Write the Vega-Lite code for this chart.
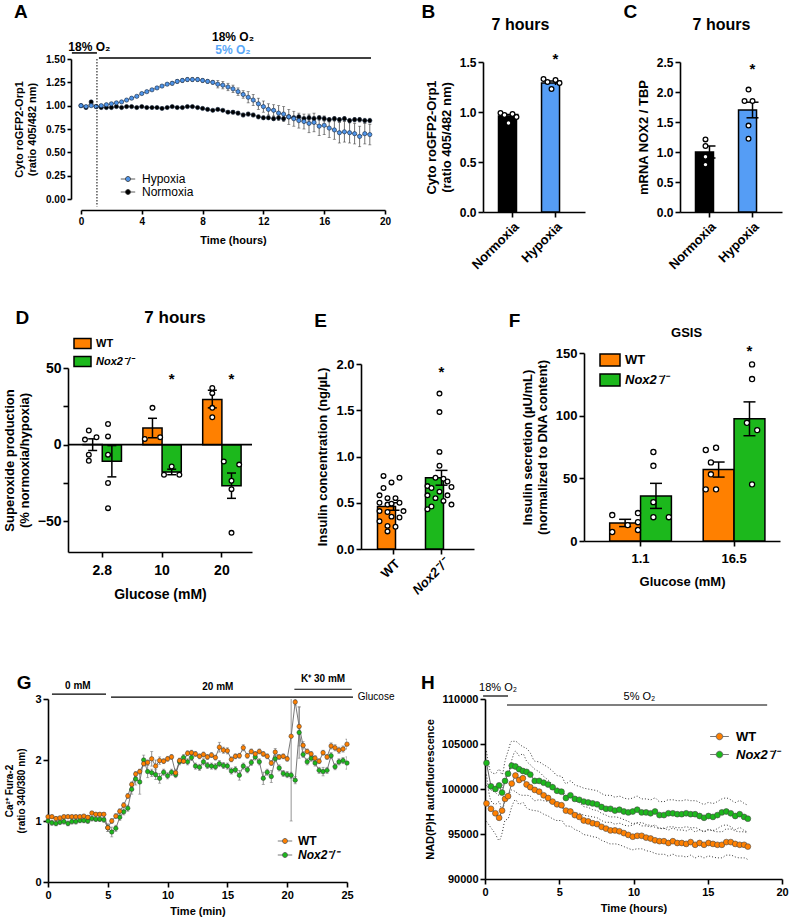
{
"$schema":"https://vega.github.io/schema/vega-lite/v6.json",
"autosize":{"type":"none"},
"padding":{"left":48,"top":59,"right":742,"bottom":862},
"background":"white",
"bounds":"flush",
"spacing":0,
"resolve":{"scale":{"fill":"independent"},"legend":{"fill":"independent"}},
"config":{
 "font":"Liberation Sans",
 "view":{"stroke":null},
 "axis":{"domainColor":"black","domainWidth":1.6,"tickColor":"black","tickWidth":1.6,"tickSize":5,"labelColor":"black","labelFontWeight":"bold","labelFontSize":11,"titleFontWeight":"bold","titleFontSize":11,"titleColor":"black","grid":false,"labelPadding":2,"titlePadding":6,"labelFlush":false,"labelOverlap":false},
 "legend":{"labelColor":"black","labelFont":"Liberation Sans","padding":0},
 "text":{"fontWeight":"bold","color":"black","font":"Liberation Sans"}
},
"datasets":{
"A":[
{"t":0,"s":"Normoxia","v":1.00,"e":0.01},{"t":0.33,"s":"Normoxia","v":0.98,"e":0.01},{"t":0.67,"s":"Normoxia","v":1.04,"e":0.01},{"t":1,"s":"Normoxia","v":0.99,"e":0.01},{"t":1.33,"s":"Normoxia","v":0.98,"e":0.01},{"t":1.67,"s":"Normoxia","v":0.98,"e":0.01},{"t":2,"s":"Normoxia","v":0.98,"e":0.01},{"t":2.33,"s":"Normoxia","v":0.99,"e":0.01},{"t":2.67,"s":"Normoxia","v":0.98,"e":0.01},{"t":3,"s":"Normoxia","v":0.99,"e":0.01},
{"t":3.33,"s":"Normoxia","v":0.99,"e":0.01},{"t":3.67,"s":"Normoxia","v":0.98,"e":0.01},{"t":4,"s":"Normoxia","v":0.99,"e":0.01},{"t":4.33,"s":"Normoxia","v":0.98,"e":0.01},{"t":4.67,"s":"Normoxia","v":0.98,"e":0.01},{"t":5,"s":"Normoxia","v":0.98,"e":0.01},{"t":5.33,"s":"Normoxia","v":0.97,"e":0.01},{"t":5.67,"s":"Normoxia","v":0.98,"e":0.01},{"t":6,"s":"Normoxia","v":0.99,"e":0.01},{"t":6.33,"s":"Normoxia","v":0.98,"e":0.01},
{"t":6.67,"s":"Normoxia","v":0.98,"e":0.01},{"t":7,"s":"Normoxia","v":0.99,"e":0.01},{"t":7.33,"s":"Normoxia","v":0.99,"e":0.01},{"t":7.67,"s":"Normoxia","v":0.98,"e":0.01},{"t":8,"s":"Normoxia","v":0.97,"e":0.01},{"t":8.33,"s":"Normoxia","v":0.96,"e":0.01},{"t":8.67,"s":"Normoxia","v":0.95,"e":0.01},{"t":9,"s":"Normoxia","v":0.96,"e":0.01},{"t":9.33,"s":"Normoxia","v":0.95,"e":0.01},{"t":9.67,"s":"Normoxia","v":0.93,"e":0.01},
{"t":10,"s":"Normoxia","v":0.93,"e":0.02},{"t":10.33,"s":"Normoxia","v":0.92,"e":0.02},{"t":10.67,"s":"Normoxia","v":0.90,"e":0.02},{"t":11,"s":"Normoxia","v":0.91,"e":0.02},{"t":11.33,"s":"Normoxia","v":0.90,"e":0.02},{"t":11.67,"s":"Normoxia","v":0.88,"e":0.02},{"t":12,"s":"Normoxia","v":0.87,"e":0.02},{"t":12.33,"s":"Normoxia","v":0.87,"e":0.02},{"t":12.67,"s":"Normoxia","v":0.86,"e":0.02},{"t":13,"s":"Normoxia","v":0.87,"e":0.02},
{"t":13.33,"s":"Normoxia","v":0.86,"e":0.02},{"t":13.67,"s":"Normoxia","v":0.88,"e":0.02},{"t":14,"s":"Normoxia","v":0.87,"e":0.02},{"t":14.33,"s":"Normoxia","v":0.88,"e":0.02},{"t":14.67,"s":"Normoxia","v":0.86,"e":0.02},{"t":15,"s":"Normoxia","v":0.87,"e":0.025},{"t":15.33,"s":"Normoxia","v":0.86,"e":0.025},{"t":15.67,"s":"Normoxia","v":0.87,"e":0.025},{"t":16,"s":"Normoxia","v":0.86,"e":0.025},{"t":16.33,"s":"Normoxia","v":0.85,"e":0.025},
{"t":16.67,"s":"Normoxia","v":0.86,"e":0.025},{"t":17,"s":"Normoxia","v":0.85,"e":0.025},{"t":17.33,"s":"Normoxia","v":0.86,"e":0.025},{"t":17.67,"s":"Normoxia","v":0.84,"e":0.025},{"t":18,"s":"Normoxia","v":0.85,"e":0.025},{"t":18.33,"s":"Normoxia","v":0.85,"e":0.025},{"t":18.67,"s":"Normoxia","v":0.84,"e":0.025},{"t":19,"s":"Normoxia","v":0.84,"e":0.025},
{"t":0,"s":"Hypoxia","v":1.00,"e":0.01},{"t":0.33,"s":"Hypoxia","v":0.99,"e":0.01},{"t":0.67,"s":"Hypoxia","v":1.00,"e":0.01},{"t":1,"s":"Hypoxia","v":0.99,"e":0.01},{"t":1.33,"s":"Hypoxia","v":1.00,"e":0.01},{"t":1.67,"s":"Hypoxia","v":1.01,"e":0.01},{"t":2,"s":"Hypoxia","v":1.02,"e":0.01},{"t":2.33,"s":"Hypoxia","v":1.03,"e":0.01},{"t":2.67,"s":"Hypoxia","v":1.04,"e":0.01},{"t":3,"s":"Hypoxia","v":1.06,"e":0.01},
{"t":3.33,"s":"Hypoxia","v":1.08,"e":0.01},{"t":3.67,"s":"Hypoxia","v":1.10,"e":0.01},{"t":4,"s":"Hypoxia","v":1.13,"e":0.01},{"t":4.33,"s":"Hypoxia","v":1.15,"e":0.01},{"t":4.67,"s":"Hypoxia","v":1.17,"e":0.01},{"t":5,"s":"Hypoxia","v":1.19,"e":0.01},{"t":5.33,"s":"Hypoxia","v":1.21,"e":0.01},{"t":5.67,"s":"Hypoxia","v":1.23,"e":0.01},{"t":6,"s":"Hypoxia","v":1.24,"e":0.02},{"t":6.33,"s":"Hypoxia","v":1.26,"e":0.02},
{"t":6.67,"s":"Hypoxia","v":1.27,"e":0.02},{"t":7,"s":"Hypoxia","v":1.28,"e":0.02},{"t":7.33,"s":"Hypoxia","v":1.28,"e":0.02},{"t":7.67,"s":"Hypoxia","v":1.28,"e":0.02},{"t":8,"s":"Hypoxia","v":1.27,"e":0.02},{"t":8.33,"s":"Hypoxia","v":1.26,"e":0.02},{"t":8.67,"s":"Hypoxia","v":1.25,"e":0.02},{"t":9,"s":"Hypoxia","v":1.23,"e":0.04},{"t":9.33,"s":"Hypoxia","v":1.22,"e":0.04},{"t":9.67,"s":"Hypoxia","v":1.20,"e":0.04},
{"t":10,"s":"Hypoxia","v":1.18,"e":0.04},{"t":10.33,"s":"Hypoxia","v":1.15,"e":0.04},{"t":10.67,"s":"Hypoxia","v":1.12,"e":0.04},{"t":11,"s":"Hypoxia","v":1.09,"e":0.06},{"t":11.33,"s":"Hypoxia","v":1.06,"e":0.06},{"t":11.67,"s":"Hypoxia","v":1.02,"e":0.06},{"t":12,"s":"Hypoxia","v":0.99,"e":0.06},{"t":12.33,"s":"Hypoxia","v":0.96,"e":0.06},{"t":12.67,"s":"Hypoxia","v":0.95,"e":0.06},{"t":13,"s":"Hypoxia","v":0.92,"e":0.08},
{"t":13.33,"s":"Hypoxia","v":0.91,"e":0.08},{"t":13.67,"s":"Hypoxia","v":0.88,"e":0.08},{"t":14,"s":"Hypoxia","v":0.86,"e":0.08},{"t":14.33,"s":"Hypoxia","v":0.84,"e":0.08},{"t":14.67,"s":"Hypoxia","v":0.83,"e":0.08},{"t":15,"s":"Hypoxia","v":0.81,"e":0.1},{"t":15.33,"s":"Hypoxia","v":0.82,"e":0.1},{"t":15.67,"s":"Hypoxia","v":0.78,"e":0.1},{"t":16,"s":"Hypoxia","v":0.79,"e":0.1},{"t":16.33,"s":"Hypoxia","v":0.76,"e":0.1},
{"t":16.67,"s":"Hypoxia","v":0.74,"e":0.1},{"t":17,"s":"Hypoxia","v":0.71,"e":0.11},{"t":17.33,"s":"Hypoxia","v":0.72,"e":0.11},{"t":17.67,"s":"Hypoxia","v":0.71,"e":0.11},{"t":18,"s":"Hypoxia","v":0.70,"e":0.11},{"t":18.33,"s":"Hypoxia","v":0.67,"e":0.11},{"t":18.67,"s":"Hypoxia","v":0.70,"e":0.11},{"t":19,"s":"Hypoxia","v":0.69,"e":0.11}
],
"Bbar":[{"g":"Normoxia","m":0.96,"lo":0.945,"hi":0.975},{"g":"Hypoxia","m":1.29,"lo":1.27,"hi":1.31}],
"Bpts":[{"g":"Normoxia","k":1,"v":0.99},{"g":"Normoxia","k":2,"v":0.97},{"g":"Normoxia","k":3,"v":0.89},{"g":"Normoxia","k":4,"v":0.98},{"g":"Normoxia","k":5,"v":0.95},{"g":"Hypoxia","k":1,"v":1.33},{"g":"Hypoxia","k":2,"v":1.30},{"g":"Hypoxia","k":3,"v":1.23},{"g":"Hypoxia","k":4,"v":1.32},{"g":"Hypoxia","k":5,"v":1.29}],
"Cbar":[{"g":"Normoxia","m":1.0,"lo":0.9,"hi":1.1},{"g":"Hypoxia","m":1.7,"lo":1.57,"hi":1.83}],
"Cpts":[{"g":"Normoxia","k":3,"v":1.21},{"g":"Normoxia","k":3,"v":1.10},{"g":"Normoxia","k":3,"v":0.92},{"g":"Normoxia","k":3,"v":0.79},{"g":"Hypoxia","k":3,"v":2.04},{"g":"Hypoxia","k":2,"v":1.85},{"g":"Hypoxia","k":4,"v":1.85},{"g":"Hypoxia","k":3,"v":1.44},{"g":"Hypoxia","k":3,"v":1.22}],
"Dbar":[{"g":"2.8","geno":"WT","m":0.1,"lo":-3.8,"hi":3.8},{"g":"2.8","geno":"Nox2⁻/⁻","m":-10.8,"lo":-21,"hi":-0.6},{"g":"10","geno":"WT","m":10.8,"lo":4.5,"hi":17.2},{"g":"10","geno":"Nox2⁻/⁻","m":-17.8,"lo":-19.6,"hi":-16},{"g":"20","geno":"WT","m":29.5,"lo":24,"hi":35.5},{"g":"20","geno":"Nox2⁻/⁻","m":-26.8,"lo":-35,"hi":-18.5}],
"Dpts":[{"g":"2.8","sub":"WT-2","v":9.2},{"g":"2.8","sub":"WT-1","v":3.3},{"g":"2.8","sub":"WT-4","v":4.8},{"g":"2.8","sub":"WT-2","v":-6.5},{"g":"2.8","sub":"WT-2","v":-10.5},
{"g":"2.8","sub":"N-2","v":13.5},{"g":"2.8","sub":"N-2","v":5.4},{"g":"2.8","sub":"N-2","v":-6.5},{"g":"2.8","sub":"N-2","v":-25},{"g":"2.8","sub":"N-2","v":-41.4},
{"g":"10","sub":"WT-1","v":3.7},{"g":"10","sub":"WT-3","v":24},{"g":"10","sub":"WT-5","v":4.8},
{"g":"10","sub":"N-1","v":-19.6},{"g":"10","sub":"N-3","v":-14.2},{"g":"10","sub":"N-5","v":-19.6},
{"g":"20","sub":"WT-3","v":37},{"g":"20","sub":"WT-3","v":33.6},{"g":"20","sub":"WT-3","v":24},{"g":"20","sub":"WT-3","v":17.9},
{"g":"20","sub":"N-1","v":-11},{"g":"20","sub":"N-5","v":-13},{"g":"20","sub":"N-3","v":-23.5},{"g":"20","sub":"N-3","v":-29},{"g":"20","sub":"N-3","v":-57.5}],
"Ebar":[{"g":"WT","m":0.46,"lo":0.42,"hi":0.50},{"g":"Nox2⁻/⁻","m":0.77,"lo":0.69,"hi":0.85}],
"Epts":[{"g":"WT","k":2,"v":0.79},{"g":"WT","k":6,"v":0.77},{"g":"WT","k":4,"v":0.72},{"g":"WT","k":2,"v":0.66},{"g":"WT","k":1,"v":0.58},{"g":"WT","k":3,"v":0.55},{"g":"WT","k":5,"v":0.55},{"g":"WT","k":1,"v":0.50},{"g":"WT","k":3,"v":0.48},{"g":"WT","k":4,"v":0.49},{"g":"WT","k":6,"v":0.50},{"g":"WT","k":7,"v":0.41},{"g":"WT","k":1,"v":0.41},{"g":"WT","k":3,"v":0.40},{"g":"WT","k":4,"v":0.35},{"g":"WT","k":6,"v":0.34},{"g":"WT","k":1,"v":0.30},{"g":"WT","k":3,"v":0.25},{"g":"WT","k":5,"v":0.24},{"g":"WT","k":3,"v":0.19},
{"g":"Nox2⁻/⁻","k":4,"v":1.68},{"g":"Nox2⁻/⁻","k":4,"v":1.48},{"g":"Nox2⁻/⁻","k":4,"v":1.05},{"g":"Nox2⁻/⁻","k":4,"v":0.90},{"g":"Nox2⁻/⁻","k":3,"v":0.77},{"g":"Nox2⁻/⁻","k":5,"v":0.76},{"g":"Nox2⁻/⁻","k":6,"v":0.73},{"g":"Nox2⁻/⁻","k":1,"v":0.68},{"g":"Nox2⁻/⁻","k":2,"v":0.66},{"g":"Nox2⁻/⁻","k":7,"v":0.67},{"g":"Nox2⁻/⁻","k":4,"v":0.62},{"g":"Nox2⁻/⁻","k":1,"v":0.58},{"g":"Nox2⁻/⁻","k":6,"v":0.58},{"g":"Nox2⁻/⁻","k":3,"v":0.55},{"g":"Nox2⁻/⁻","k":5,"v":0.52},{"g":"Nox2⁻/⁻","k":7,"v":0.48},{"g":"Nox2⁻/⁻","k":2,"v":0.46},{"g":"Nox2⁻/⁻","k":1,"v":0.43}],
"Fbar":[{"g":"1.1","geno":"WT","m":14.4,"lo":11.5,"hi":17.3},{"g":"1.1","geno":"Nox2⁻/⁻","m":36,"lo":26,"hi":46},{"g":"16.5","geno":"WT","m":57,"lo":51,"hi":63},{"g":"16.5","geno":"Nox2⁻/⁻","m":97.5,"lo":84,"hi":111}],
"Fpts":[{"g":"1.1","sub":"WT-1","v":20.7},{"g":"1.1","sub":"WT-4","v":12.7},{"g":"1.1","sub":"WT-1","v":7.2},{"g":"1.1","sub":"WT-6","v":22.3},{"g":"1.1","sub":"WT-6","v":15},{"g":"1.1","sub":"WT-6","v":8.8},
{"g":"1.1","sub":"N-3","v":71},{"g":"1.1","sub":"N-3","v":60},{"g":"1.1","sub":"N-3","v":31},{"g":"1.1","sub":"N-3","v":19},{"g":"1.1","sub":"N-6","v":19},
{"g":"16.5","sub":"WT-1","v":72.6},{"g":"16.5","sub":"WT-3","v":74.4},{"g":"16.5","sub":"WT-2","v":62.7},{"g":"16.5","sub":"WT-2","v":53.2},{"g":"16.5","sub":"WT-1","v":41.2},{"g":"16.5","sub":"WT-3","v":41.2},
{"g":"16.5","sub":"N-4","v":140.9},{"g":"16.5","sub":"N-4","v":129.2},{"g":"16.5","sub":"N-3","v":94.3},{"g":"16.5","sub":"N-5","v":88.5},{"g":"16.5","sub":"N-4","v":45.2}],
"G":[
{"t":0,"g":"Nox2⁻/⁻","v":1.00,"e":0.04},{"t":0.33,"g":"Nox2⁻/⁻","v":0.97,"e":0.04},{"t":0.67,"g":"Nox2⁻/⁻","v":0.96,"e":0.04},{"t":1,"g":"Nox2⁻/⁻","v":0.98,"e":0.04},{"t":1.33,"g":"Nox2⁻/⁻","v":0.99,"e":0.04},{"t":1.67,"g":"Nox2⁻/⁻","v":0.96,"e":0.04},{"t":2,"g":"Nox2⁻/⁻","v":0.99,"e":0.04},{"t":2.33,"g":"Nox2⁻/⁻","v":0.99,"e":0.04},{"t":2.67,"g":"Nox2⁻/⁻","v":1.01,"e":0.04},{"t":3,"g":"Nox2⁻/⁻","v":1.01,"e":0.04},
{"t":3.33,"g":"Nox2⁻/⁻","v":1.00,"e":0.04},{"t":3.67,"g":"Nox2⁻/⁻","v":1.04,"e":0.04},{"t":4,"g":"Nox2⁻/⁻","v":1.03,"e":0.04},{"t":4.33,"g":"Nox2⁻/⁻","v":1.03,"e":0.04},{"t":4.67,"g":"Nox2⁻/⁻","v":1.02,"e":0.04},{"t":5,"g":"Nox2⁻/⁻","v":0.89,"e":0.06},{"t":5.33,"g":"Nox2⁻/⁻","v":0.82,"e":0.08},{"t":5.67,"g":"Nox2⁻/⁻","v":0.88,"e":0.05},{"t":6,"g":"Nox2⁻/⁻","v":1.06,"e":0.05},{"t":6.33,"g":"Nox2⁻/⁻","v":1.15,"e":0.05},
{"t":6.67,"g":"Nox2⁻/⁻","v":1.21,"e":0.05},{"t":7,"g":"Nox2⁻/⁻","v":1.52,"e":0.08},{"t":7.33,"g":"Nox2⁻/⁻","v":1.69,"e":0.1},{"t":7.67,"g":"Nox2⁻/⁻","v":1.64,"e":0.2},{"t":8,"g":"Nox2⁻/⁻","v":2.00,"e":0.08},{"t":8.33,"g":"Nox2⁻/⁻","v":1.81,"e":0.1},{"t":8.67,"g":"Nox2⁻/⁻","v":1.79,"e":0.06},{"t":9,"g":"Nox2⁻/⁻","v":1.76,"e":0.08},{"t":9.33,"g":"Nox2⁻/⁻","v":1.70,"e":0.08},{"t":9.67,"g":"Nox2⁻/⁻","v":1.80,"e":0.05},
{"t":10,"g":"Nox2⁻/⁻","v":1.74,"e":0.05},{"t":10.33,"g":"Nox2⁻/⁻","v":1.80,"e":0.05},{"t":10.67,"g":"Nox2⁻/⁻","v":1.76,"e":0.05},{"t":11,"g":"Nox2⁻/⁻","v":1.97,"e":0.05},{"t":11.33,"g":"Nox2⁻/⁻","v":2.04,"e":0.05},{"t":11.67,"g":"Nox2⁻/⁻","v":1.97,"e":0.05},{"t":12,"g":"Nox2⁻/⁻","v":2.04,"e":0.05},{"t":12.33,"g":"Nox2⁻/⁻","v":1.90,"e":0.05},{"t":12.67,"g":"Nox2⁻/⁻","v":1.88,"e":0.05},{"t":13,"g":"Nox2⁻/⁻","v":1.97,"e":0.05},
{"t":13.33,"g":"Nox2⁻/⁻","v":1.91,"e":0.05},{"t":13.67,"g":"Nox2⁻/⁻","v":1.90,"e":0.05},{"t":14,"g":"Nox2⁻/⁻","v":1.89,"e":0.05},{"t":14.33,"g":"Nox2⁻/⁻","v":1.94,"e":0.05},{"t":14.67,"g":"Nox2⁻/⁻","v":1.91,"e":0.05},{"t":15,"g":"Nox2⁻/⁻","v":1.90,"e":0.05},{"t":15.33,"g":"Nox2⁻/⁻","v":1.82,"e":0.05},{"t":15.67,"g":"Nox2⁻/⁻","v":1.84,"e":0.05},{"t":16,"g":"Nox2⁻/⁻","v":1.75,"e":0.08},{"t":16.33,"g":"Nox2⁻/⁻","v":1.90,"e":0.05},
{"t":16.67,"g":"Nox2⁻/⁻","v":1.84,"e":0.05},{"t":17,"g":"Nox2⁻/⁻","v":1.96,"e":0.05},{"t":17.33,"g":"Nox2⁻/⁻","v":2.05,"e":0.05},{"t":17.67,"g":"Nox2⁻/⁻","v":1.97,"e":0.05},{"t":18,"g":"Nox2⁻/⁻","v":1.70,"e":0.1},{"t":18.33,"g":"Nox2⁻/⁻","v":1.80,"e":0.05},{"t":18.67,"g":"Nox2⁻/⁻","v":1.73,"e":0.1},{"t":19,"g":"Nox2⁻/⁻","v":2.02,"e":0.05},{"t":19.33,"g":"Nox2⁻/⁻","v":1.87,"e":0.05},{"t":19.67,"g":"Nox2⁻/⁻","v":1.78,"e":0.05},
{"t":20,"g":"Nox2⁻/⁻","v":1.76,"e":0.05},{"t":20.33,"g":"Nox2⁻/⁻","v":1.75,"e":0.05},{"t":20.67,"g":"Nox2⁻/⁻","v":1.67,"e":0.06},{"t":21,"g":"Nox2⁻/⁻","v":2.45,"e":0.42},{"t":21.33,"g":"Nox2⁻/⁻","v":2.09,"e":0.05},{"t":21.67,"g":"Nox2⁻/⁻","v":1.97,"e":0.05},{"t":22,"g":"Nox2⁻/⁻","v":2.03,"e":0.05},{"t":22.33,"g":"Nox2⁻/⁻","v":1.95,"e":0.05},{"t":22.67,"g":"Nox2⁻/⁻","v":1.83,"e":0.05},{"t":23,"g":"Nox2⁻/⁻","v":1.81,"e":0.07},
{"t":23.33,"g":"Nox2⁻/⁻","v":1.83,"e":0.05},{"t":23.67,"g":"Nox2⁻/⁻","v":2.07,"e":0.05},{"t":24,"g":"Nox2⁻/⁻","v":1.89,"e":0.05},{"t":24.33,"g":"Nox2⁻/⁻","v":1.97,"e":0.05},{"t":24.67,"g":"Nox2⁻/⁻","v":1.99,"e":0.05},{"t":25,"g":"Nox2⁻/⁻","v":1.95,"e":0.1},
{"t":0,"g":"WT","v":1.07,"e":0.03},{"t":0.33,"g":"WT","v":1.07,"e":0.03},{"t":0.67,"g":"WT","v":1.04,"e":0.03},{"t":1,"g":"WT","v":1.05,"e":0.03},{"t":1.33,"g":"WT","v":1.07,"e":0.03},{"t":1.67,"g":"WT","v":1.07,"e":0.03},{"t":2,"g":"WT","v":1.07,"e":0.03},{"t":2.33,"g":"WT","v":1.07,"e":0.03},{"t":2.67,"g":"WT","v":1.07,"e":0.03},{"t":3,"g":"WT","v":1.08,"e":0.03},
{"t":3.33,"g":"WT","v":1.06,"e":0.03},{"t":3.67,"g":"WT","v":1.13,"e":0.03},{"t":4,"g":"WT","v":1.11,"e":0.03},{"t":4.33,"g":"WT","v":1.11,"e":0.03},{"t":4.67,"g":"WT","v":1.11,"e":0.03},{"t":5,"g":"WT","v":0.89,"e":0.06},{"t":5.33,"g":"WT","v":1.00,"e":0.04},{"t":5.67,"g":"WT","v":1.08,"e":0.04},{"t":6,"g":"WT","v":1.16,"e":0.04},{"t":6.33,"g":"WT","v":1.26,"e":0.04},
{"t":6.67,"g":"WT","v":1.41,"e":0.04},{"t":7,"g":"WT","v":1.60,"e":0.04},{"t":7.33,"g":"WT","v":1.77,"e":0.04},{"t":7.67,"g":"WT","v":1.81,"e":0.04},{"t":8,"g":"WT","v":1.94,"e":0.04},{"t":8.33,"g":"WT","v":1.96,"e":0.04},{"t":8.67,"g":"WT","v":2.02,"e":0.12},{"t":9,"g":"WT","v":1.90,"e":0.1},{"t":9.33,"g":"WT","v":1.99,"e":0.06},{"t":9.67,"g":"WT","v":1.98,"e":0.04},
{"t":10,"g":"WT","v":2.02,"e":0.04},{"t":10.33,"g":"WT","v":2.05,"e":0.04},{"t":10.67,"g":"WT","v":1.79,"e":0.06},{"t":11,"g":"WT","v":1.99,"e":0.04},{"t":11.33,"g":"WT","v":1.98,"e":0.04},{"t":11.67,"g":"WT","v":2.11,"e":0.04},{"t":12,"g":"WT","v":2.12,"e":0.04},{"t":12.33,"g":"WT","v":2.10,"e":0.04},{"t":12.67,"g":"WT","v":2.06,"e":0.04},{"t":13,"g":"WT","v":2.09,"e":0.04},
{"t":13.33,"g":"WT","v":2.05,"e":0.04},{"t":13.67,"g":"WT","v":2.08,"e":0.04},{"t":14,"g":"WT","v":2.04,"e":0.04},{"t":14.33,"g":"WT","v":2.21,"e":0.08},{"t":14.67,"g":"WT","v":2.16,"e":0.05},{"t":15,"g":"WT","v":2.15,"e":0.05},{"t":15.33,"g":"WT","v":2.01,"e":0.04},{"t":15.67,"g":"WT","v":2.06,"e":0.04},{"t":16,"g":"WT","v":2.07,"e":0.04},{"t":16.33,"g":"WT","v":2.20,"e":0.05},
{"t":16.67,"g":"WT","v":2.07,"e":0.04},{"t":17,"g":"WT","v":2.14,"e":0.04},{"t":17.33,"g":"WT","v":2.10,"e":0.04},{"t":17.67,"g":"WT","v":2.14,"e":0.04},{"t":18,"g":"WT","v":2.10,"e":0.04},{"t":18.33,"g":"WT","v":2.06,"e":0.04},{"t":18.67,"g":"WT","v":1.95,"e":0.04},{"t":19,"g":"WT","v":2.13,"e":0.06},{"t":19.33,"g":"WT","v":2.05,"e":0.04},{"t":19.67,"g":"WT","v":2.06,"e":0.04},
{"t":20,"g":"WT","v":2.02,"e":0.04},{"t":20.33,"g":"WT","v":2.39,"e":1.39},{"t":20.67,"g":"WT","v":2.95,"e":0.05},{"t":21,"g":"WT","v":2.55,"e":0.32},{"t":21.33,"g":"WT","v":2.24,"e":0.06},{"t":21.67,"g":"WT","v":2.14,"e":0.04},{"t":22,"g":"WT","v":2.10,"e":0.04},{"t":22.33,"g":"WT","v":2.03,"e":0.04},{"t":22.67,"g":"WT","v":1.98,"e":0.04},{"t":23,"g":"WT","v":2.12,"e":0.04},
{"t":23.33,"g":"WT","v":2.05,"e":0.04},{"t":23.67,"g":"WT","v":2.23,"e":0.05},{"t":24,"g":"WT","v":2.20,"e":0.05},{"t":24.33,"g":"WT","v":2.16,"e":0.05},{"t":24.67,"g":"WT","v":2.18,"e":0.05},{"t":25,"g":"WT","v":2.26,"e":0.08}
],
"H":[
{"t":0.1,"g":"WT","v":98400,"e":2000},{"t":0.4,"g":"WT","v":97800,"e":2100},{"t":0.7,"g":"WT","v":97300,"e":2300},{"t":0.95,"g":"WT","v":96800,"e":2500},{"t":1.15,"g":"WT","v":97600,"e":2500},{"t":1.35,"g":"WT","v":98900,"e":2400},{"t":1.55,"g":"WT","v":99200,"e":2500},{"t":1.8,"g":"WT","v":100600,"e":2600},{"t":2.05,"g":"WT","v":101500,"e":2700},{"t":2.3,"g":"WT","v":101000,"e":2700},
{"t":2.55,"g":"WT","v":101200,"e":2700},{"t":2.8,"g":"WT","v":100500,"e":2600},{"t":3.05,"g":"WT","v":100200,"e":2500},{"t":3.35,"g":"WT","v":99900,"e":2300},{"t":3.65,"g":"WT","v":99700,"e":2200},{"t":3.95,"g":"WT","v":99300,"e":2100},{"t":4.25,"g":"WT","v":99000,"e":2000},{"t":4.55,"g":"WT","v":98600,"e":1900},{"t":4.85,"g":"WT","v":98300,"e":1800},{"t":5.15,"g":"WT","v":98200,"e":1700},
{"t":5.45,"g":"WT","v":97600,"e":1700},{"t":5.75,"g":"WT","v":97500,"e":1650},{"t":6.05,"g":"WT","v":97100,"e":1600},{"t":6.35,"g":"WT","v":96900,"e":1600},{"t":6.65,"g":"WT","v":96500,"e":1550},{"t":6.95,"g":"WT","v":96400,"e":1550},{"t":7.25,"g":"WT","v":96200,"e":1500},{"t":7.55,"g":"WT","v":96100,"e":1500},{"t":7.85,"g":"WT","v":95800,"e":1500},{"t":8.15,"g":"WT","v":95600,"e":1500},
{"t":8.45,"g":"WT","v":95400,"e":1500},{"t":8.75,"g":"WT","v":95400,"e":1500},{"t":9.05,"g":"WT","v":95300,"e":1500},{"t":9.35,"g":"WT","v":95100,"e":1500},{"t":9.65,"g":"WT","v":94900,"e":1500},{"t":9.95,"g":"WT","v":94700,"e":1450},{"t":10.25,"g":"WT","v":94800,"e":1450},{"t":10.55,"g":"WT","v":94800,"e":1450},{"t":10.85,"g":"WT","v":94600,"e":1450},{"t":11.15,"g":"WT","v":94500,"e":1450},
{"t":11.45,"g":"WT","v":94300,"e":1450},{"t":11.75,"g":"WT","v":94200,"e":1450},{"t":12.05,"g":"WT","v":94200,"e":1450},{"t":12.35,"g":"WT","v":94000,"e":1450},{"t":12.65,"g":"WT","v":94200,"e":1450},{"t":12.95,"g":"WT","v":94000,"e":1450},{"t":13.25,"g":"WT","v":94000,"e":1450},{"t":13.55,"g":"WT","v":93900,"e":1450},{"t":13.85,"g":"WT","v":94100,"e":1450},{"t":14.15,"g":"WT","v":93800,"e":1450},
{"t":14.45,"g":"WT","v":94000,"e":1450},{"t":14.75,"g":"WT","v":93800,"e":1450},{"t":15.05,"g":"WT","v":94000,"e":1450},{"t":15.35,"g":"WT","v":93900,"e":1450},{"t":15.65,"g":"WT","v":93800,"e":1450},{"t":15.95,"g":"WT","v":93800,"e":1450},{"t":16.25,"g":"WT","v":94100,"e":1450},{"t":16.55,"g":"WT","v":94100,"e":1450},{"t":16.85,"g":"WT","v":93900,"e":1450},{"t":17.15,"g":"WT","v":93800,"e":1450},
{"t":17.45,"g":"WT","v":93800,"e":1450},{"t":17.7,"g":"WT","v":93600,"e":1450},
{"t":0.1,"g":"Nox2⁻/⁻","v":102900,"e":1300},{"t":0.4,"g":"Nox2⁻/⁻","v":100300,"e":1600},{"t":0.7,"g":"Nox2⁻/⁻","v":100000,"e":1700},{"t":0.95,"g":"Nox2⁻/⁻","v":100400,"e":1800},{"t":1.15,"g":"Nox2⁻/⁻","v":99600,"e":2000},{"t":1.35,"g":"Nox2⁻/⁻","v":100900,"e":2200},{"t":1.55,"g":"Nox2⁻/⁻","v":101700,"e":2500},{"t":1.8,"g":"Nox2⁻/⁻","v":102600,"e":2700},{"t":2.05,"g":"Nox2⁻/⁻","v":102500,"e":2800},{"t":2.3,"g":"Nox2⁻/⁻","v":102200,"e":2800},
{"t":2.55,"g":"Nox2⁻/⁻","v":102000,"e":2700},{"t":2.8,"g":"Nox2⁻/⁻","v":101900,"e":2600},{"t":3.05,"g":"Nox2⁻/⁻","v":101600,"e":2400},{"t":3.35,"g":"Nox2⁻/⁻","v":100900,"e":2200},{"t":3.65,"g":"Nox2⁻/⁻","v":100900,"e":2100},{"t":3.95,"g":"Nox2⁻/⁻","v":100700,"e":2000},{"t":4.25,"g":"Nox2⁻/⁻","v":100500,"e":1900},{"t":4.55,"g":"Nox2⁻/⁻","v":100200,"e":1800},{"t":4.85,"g":"Nox2⁻/⁻","v":99800,"e":1700},{"t":5.15,"g":"Nox2⁻/⁻","v":99700,"e":1700},
{"t":5.45,"g":"Nox2⁻/⁻","v":99000,"e":1600},{"t":5.75,"g":"Nox2⁻/⁻","v":99300,"e":1600},{"t":6.05,"g":"Nox2⁻/⁻","v":98900,"e":1550},{"t":6.35,"g":"Nox2⁻/⁻","v":98800,"e":1500},{"t":6.65,"g":"Nox2⁻/⁻","v":98600,"e":1500},{"t":6.95,"g":"Nox2⁻/⁻","v":98500,"e":1500},{"t":7.25,"g":"Nox2⁻/⁻","v":98400,"e":1500},{"t":7.55,"g":"Nox2⁻/⁻","v":98300,"e":1500},{"t":7.85,"g":"Nox2⁻/⁻","v":98000,"e":1500},{"t":8.15,"g":"Nox2⁻/⁻","v":97800,"e":1500},
{"t":8.45,"g":"Nox2⁻/⁻","v":97800,"e":1500},{"t":8.75,"g":"Nox2⁻/⁻","v":97600,"e":1500},{"t":9.05,"g":"Nox2⁻/⁻","v":97700,"e":1500},{"t":9.35,"g":"Nox2⁻/⁻","v":97500,"e":1500},{"t":9.65,"g":"Nox2⁻/⁻","v":97400,"e":1500},{"t":9.95,"g":"Nox2⁻/⁻","v":97500,"e":1500},{"t":10.25,"g":"Nox2⁻/⁻","v":97700,"e":1500},{"t":10.55,"g":"Nox2⁻/⁻","v":97400,"e":1500},{"t":10.85,"g":"Nox2⁻/⁻","v":97400,"e":1500},{"t":11.15,"g":"Nox2⁻/⁻","v":97300,"e":1500},
{"t":11.45,"g":"Nox2⁻/⁻","v":97500,"e":1500},{"t":11.75,"g":"Nox2⁻/⁻","v":97100,"e":1500},{"t":12.05,"g":"Nox2⁻/⁻","v":97100,"e":1500},{"t":12.35,"g":"Nox2⁻/⁻","v":97300,"e":1500},{"t":12.65,"g":"Nox2⁻/⁻","v":97300,"e":1500},{"t":12.95,"g":"Nox2⁻/⁻","v":97200,"e":1500},{"t":13.25,"g":"Nox2⁻/⁻","v":97200,"e":1500},{"t":13.55,"g":"Nox2⁻/⁻","v":97300,"e":1500},{"t":13.85,"g":"Nox2⁻/⁻","v":97200,"e":1500},{"t":14.15,"g":"Nox2⁻/⁻","v":97200,"e":1500},
{"t":14.45,"g":"Nox2⁻/⁻","v":97000,"e":1500},{"t":14.75,"g":"Nox2⁻/⁻","v":96800,"e":1500},{"t":15.05,"g":"Nox2⁻/⁻","v":97000,"e":1500},{"t":15.35,"g":"Nox2⁻/⁻","v":96900,"e":1500},{"t":15.65,"g":"Nox2⁻/⁻","v":97100,"e":1500},{"t":15.95,"g":"Nox2⁻/⁻","v":97400,"e":1500},{"t":16.25,"g":"Nox2⁻/⁻","v":97500,"e":1500},{"t":16.55,"g":"Nox2⁻/⁻","v":97300,"e":1500},{"t":16.85,"g":"Nox2⁻/⁻","v":97000,"e":1500},{"t":17.15,"g":"Nox2⁻/⁻","v":97200,"e":1500},
{"t":17.45,"g":"Nox2⁻/⁻","v":96900,"e":1500},{"t":17.7,"g":"Nox2⁻/⁻","v":96700,"e":1500}
]
},
"vconcat":[
 {"hconcat":[
  {"data":{"values":[]},"mark":"point","width":33,"height":1},
  {"width":304,"height":140,"layer":[
   {"data":{"name":"A"},"mark":{"type":"line","color":"#333","strokeWidth":0.6},
    "encoding":{"x":{"field":"t","type":"quantitative","title":"Time (hours)","scale":{"domain":[0,20],"nice":false},"axis":{"values":[0,4,8,12,16,20],"tickCount":50,"format":"d","offset":11,"labelFontSize":10,"titleFontSize":11,"tickSize":4,"titlePadding":8}},
     "y":{"field":"v","type":"quantitative","title":["Cyto roGFP2-Orp1","(ratio 405/482 nm)"],"scale":{"domain":[0,1.5],"nice":false},"axis":{"values":[0,0.25,0.5,0.75,1,1.25,1.5],"tickCount":50,"format":".2f","offset":10,"labelFontSize":10,"titleFontSize":11,"tickSize":4,"titlePadding":8}},
     "detail":{"field":"s"}}},
   {"data":{"name":"A"},"mark":{"type":"errorbar","color":"#333","thickness":0.7,"ticks":{"size":3,"thickness":0.7}},
    "encoding":{"x":{"field":"t","type":"quantitative","title":"Time (hours)"},"y":{"field":"v","type":"quantitative","title":["Cyto roGFP2-Orp1","(ratio 405/482 nm)"]},"yError":{"field":"e"}}},
   {"data":{"name":"A"},"mark":{"type":"circle","size":18,"opacity":1,"stroke":"#14263f","strokeWidth":0.6},
    "encoding":{"x":{"field":"t","type":"quantitative"},"y":{"field":"v","type":"quantitative"},
     "fill":{"field":"s","type":"nominal","scale":{"domain":["Hypoxia","Normoxia"],"range":["#4F94E8","#000000"]},
      "legend":{"title":null,"orient":"none","legendX":41,"legendY":114,"symbolType":"M-2,0H-0.7M0.7,0H2M0.7,0A0.7,0.7,0,1,1,-0.7,0A0.7,0.7,0,1,1,0.7,0","symbolSize":52,"symbolStrokeColor":"#333","symbolStrokeWidth":0.8,"labelFontSize":12,"labelFontWeight":"normal","labelOffset":8,"rowPadding":1}}}},
   {"data":{"values":[{}]},"mark":{"type":"rule","strokeDash":[1.5,1.5],"strokeWidth":1,"color":"black"},"encoding":{"x":{"datum":1.05},"y":{"datum":1.5},"y2":{"datum":-0.08}}},
   {"data":{"values":[{}]},"mark":{"type":"rule","strokeWidth":1.5,"color":"black"},"encoding":{"x":{"datum":-0.6},"x2":{"datum":1.05},"y":{"datum":1.565}}},
   {"data":{"values":[{}]},"mark":{"type":"rule","strokeWidth":1.5,"color":"black"},"encoding":{"x":{"datum":1.18},"x2":{"datum":19.08},"y":{"datum":1.511}}},
   {"data":{"values":[{}]},"mark":{"type":"text","text":"18% O₂","fontSize":12,"baseline":"middle"},"encoding":{"x":{"datum":0.55},"y":{"datum":1.63}}},
   {"data":{"values":[{}]},"mark":{"type":"text","text":"18% O₂","fontSize":12,"baseline":"middle"},"encoding":{"x":{"datum":10},"y":{"datum":1.736}}},
   {"data":{"values":[{}]},"mark":{"type":"text","text":"5% O₂","fontSize":12,"baseline":"middle","color":"#5AA7F7"},"encoding":{"x":{"datum":10},"y":{"datum":1.596}}},
   {"data":{"values":[{}]},"mark":{"type":"text","text":"A","fontSize":19,"baseline":"middle"},"encoding":{"x":{"datum":-3.95},"y":{"datum":2.0}}}
  ]},
  {"data":{"values":[]},"mark":"point","width":98,"height":1},
  {"vconcat":[
   {"data":{"values":[]},"mark":"point","width":1,"height":3},
   {"width":102,"height":150,"layer":[
    {"data":{"name":"Bbar"},"mark":{"type":"bar","stroke":"black","strokeWidth":1.5},
     "encoding":{"x":{"field":"g","type":"nominal","sort":["Normoxia","Hypoxia"],"scale":{"type":"band","paddingInner":0.35,"paddingOuter":0.36},"axis":{"title":null,"labelAngle":-45,"labelAlign":"right","labelBaseline":"top","labelFontSize":13,"labelPadding":3}},
      "y":{"field":"m","type":"quantitative","scale":{"domain":[0,1.5],"nice":false},"axis":{"values":[0,0.5,1,1.5],"tickCount":50,"format":".1f","title":["Cyto roGFP2-Orp1","(ratio 405/482 nm)"],"labelFontSize":12,"titleFontSize":13}},
      "fill":{"field":"g","type":"nominal","scale":{"domain":["Normoxia","Hypoxia"],"range":["#000000","#559DF5"]},"legend":null}}},
    {"data":{"name":"Bbar"},"mark":{"type":"rule","strokeWidth":1.5,"color":"black"},"encoding":{"x":{"field":"g","type":"nominal","sort":["Normoxia","Hypoxia"]},"y":{"field":"lo","type":"quantitative"},"y2":{"field":"hi"}}},
    {"data":{"name":"Bbar"},"mark":{"type":"tick","size":12,"thickness":1.5,"color":"black","opacity":1},"encoding":{"x":{"field":"g","type":"nominal","sort":["Normoxia","Hypoxia"]},"y":{"field":"hi","type":"quantitative"}}},
    {"data":{"name":"Bpts"},"mark":{"type":"point","shape":"circle","filled":true,"fill":"white","stroke":"black","strokeWidth":1.3,"size":22,"opacity":1},
     "encoding":{"x":{"field":"g","type":"nominal","sort":["Normoxia","Hypoxia"]},"xOffset":{"field":"k","type":"ordinal","scale":{"domain":[1,2,3,4,5]}},"y":{"field":"v","type":"quantitative"}}},
    {"data":{"values":[{"g":"Hypoxia"}]},"mark":{"type":"text","text":"*","fontSize":15,"baseline":"top"},"encoding":{"x":{"field":"g","type":"nominal","sort":["Normoxia","Hypoxia"]},"y":{"datum":1.6}}},
    {"data":{"values":[{"g":"Normoxia"}]},"mark":{"type":"text","text":"7 hours","fontSize":16,"baseline":"middle","dx":8},"encoding":{"x":{"field":"g","type":"nominal","sort":["Normoxia","Hypoxia"]},"y":{"datum":1.87}}},
    {"data":{"values":[{"g":"Normoxia"}]},"mark":{"type":"text","text":"B","fontSize":19,"baseline":"middle","dx":-84},"encoding":{"x":{"field":"g","type":"nominal","sort":["Normoxia","Hypoxia"]},"y":{"datum":2.0}}}
   ]}
  ],"spacing":0,"bounds":"flush"},
  {"data":{"values":[]},"mark":"point","width":197,"height":1},
  {"vconcat":[
   {"data":{"values":[]},"mark":"point","width":1,"height":3},
   {"width":102,"height":150,"layer":[
    {"data":{"name":"Cbar"},"mark":{"type":"bar","stroke":"black","strokeWidth":1.5},
     "encoding":{"x":{"field":"g","type":"nominal","sort":["Normoxia","Hypoxia"],"scale":{"type":"band","paddingInner":0.35,"paddingOuter":0.36},"axis":{"title":null,"labelAngle":-45,"labelAlign":"right","labelBaseline":"top","labelFontSize":13,"labelPadding":3}},
      "y":{"field":"m","type":"quantitative","scale":{"domain":[0,2.5],"nice":false},"axis":{"values":[0,0.5,1,1.5,2,2.5],"tickCount":50,"format":".1f","title":"mRNA NOX2 / TBP","labelFontSize":12,"titleFontSize":13}},
      "fill":{"field":"g","type":"nominal","scale":{"domain":["Normoxia","Hypoxia"],"range":["#000000","#559DF5"]},"legend":null}}},
    {"data":{"name":"Cbar"},"mark":{"type":"rule","strokeWidth":1.5,"color":"black"},"encoding":{"x":{"field":"g","type":"nominal","sort":["Normoxia","Hypoxia"]},"y":{"field":"lo","type":"quantitative"},"y2":{"field":"hi"}}},
    {"data":{"name":"Cbar"},"mark":{"type":"tick","size":12,"thickness":1.5,"color":"black","opacity":1},"encoding":{"x":{"field":"g","type":"nominal","sort":["Normoxia","Hypoxia"]},"y":{"field":"hi","type":"quantitative"}}},
    {"data":{"name":"Cbar"},"mark":{"type":"tick","size":12,"thickness":1.5,"color":"black","opacity":1},"encoding":{"x":{"field":"g","type":"nominal","sort":["Normoxia","Hypoxia"]},"y":{"field":"lo","type":"quantitative"}}},
    {"data":{"name":"Cpts"},"mark":{"type":"point","shape":"circle","filled":true,"fill":"white","stroke":"black","strokeWidth":1.3,"size":22,"opacity":1},
     "encoding":{"x":{"field":"g","type":"nominal","sort":["Normoxia","Hypoxia"]},"xOffset":{"field":"k","type":"ordinal","scale":{"domain":[1,2,3,4,5]}},"y":{"field":"v","type":"quantitative"}}},
    {"data":{"values":[{"g":"Hypoxia"}]},"mark":{"type":"text","text":"*","fontSize":15,"baseline":"top"},"encoding":{"x":{"field":"g","type":"nominal","sort":["Normoxia","Hypoxia"]},"y":{"datum":2.5}}},
    {"data":{"values":[{"g":"Normoxia"}]},"mark":{"type":"text","text":"7 hours","fontSize":16,"baseline":"middle","dx":12},"encoding":{"x":{"field":"g","type":"nominal","sort":["Normoxia","Hypoxia"]},"y":{"datum":3.12}}},
    {"data":{"values":[{"g":"Normoxia"}]},"mark":{"type":"text","text":"C","fontSize":19,"baseline":"middle","dx":-79},"encoding":{"x":{"field":"g","type":"nominal","sort":["Normoxia","Hypoxia"]},"y":{"datum":3.33}}}
   ]}
  ],"spacing":0,"bounds":"flush"}
 ],"spacing":0,"bounds":"flush","resolve":{"scale":{"fill":"independent"},"legend":{"fill":"independent"}}},
 {"data":{"values":[]},"mark":"point","width":1,"height":294},
 {"hconcat":[
  {"data":{"values":[]},"mark":"point","width":20,"height":1},
  {"vconcat":[
   {"data":{"values":[]},"mark":"point","width":1,"height":15},
   {"width":184,"height":184,"resolve":{"scale":{"xOffset":"independent"}},"layer":[
    {"data":{"name":"Dbar"},"mark":{"type":"bar","stroke":"black","strokeWidth":1.5},
     "encoding":{"x":{"field":"g","type":"nominal","sort":["2.8","10","20"],"scale":{"type":"band","paddingInner":0.358,"paddingOuter":0.217,"align":0.58},"axis":{"title":"Glucose (mM)","labelAngle":0,"labelFontSize":14,"titleFontSize":14,"labelPadding":6,"titlePadding":10}},
      "xOffset":{"field":"geno","type":"nominal","sort":["WT","Nox2⁻/⁻"],"scale":{"domain":["WT","Nox2⁻/⁻"]}},
      "y":{"field":"m","type":"quantitative","scale":{"domain":[-70,50],"nice":false,"zero":false},"axis":{"values":[-50,-25,0,25,50],"tickCount":50,"labelExpr":"datum.value % 50 === 0 ? datum.label : ''","title":["Superoxide production","(% normoxia/hypoxia)"],"labelFontSize":14,"titleFontSize":13}},
      "fill":{"field":"geno","type":"nominal","scale":{"domain":["WT","Nox2⁻/⁻"],"range":["#FF8000","#1CB81C"]},
       "legend":{"title":null,"orient":"none","legendX":5,"legendY":-34,"symbolType":"M-1,-0.59H1V0.59H-1Z","symbolSize":289,"symbolStrokeColor":"black","symbolStrokeWidth":1.5,"labelFontSize":11,"labelFontWeight":"bold","labelOffset":4,"rowPadding":0,"labelFontStyle":{"expr":"datum.label == 'WT' ? 'normal' : 'italic'"}}}}},
    {"data":{"values":[{}]},"mark":{"type":"rule","strokeWidth":1.6,"color":"black"},"encoding":{"y":{"datum":0}}},
    {"data":{"name":"Dbar"},"mark":{"type":"rule","strokeWidth":1.5,"color":"black"},
     "encoding":{"x":{"field":"g","type":"nominal","sort":["2.8","10","20"]},"xOffset":{"field":"geno","type":"nominal","scale":{"domain":["WT","Nox2⁻/⁻"]}},"y":{"field":"lo","type":"quantitative"},"y2":{"field":"hi"}}},
    {"data":{"name":"Dbar"},"mark":{"type":"tick","size":9,"thickness":1.5,"color":"black","opacity":1},
     "encoding":{"x":{"field":"g","type":"nominal","sort":["2.8","10","20"]},"xOffset":{"field":"geno","type":"nominal","scale":{"domain":["WT","Nox2⁻/⁻"]}},"y":{"field":"hi","type":"quantitative"}}},
    {"data":{"name":"Dbar"},"mark":{"type":"tick","size":9,"thickness":1.5,"color":"black","opacity":1},
     "encoding":{"x":{"field":"g","type":"nominal","sort":["2.8","10","20"]},"xOffset":{"field":"geno","type":"nominal","scale":{"domain":["WT","Nox2⁻/⁻"]}},"y":{"field":"lo","type":"quantitative"}}},
    {"data":{"name":"Dpts"},"mark":{"type":"point","shape":"circle","filled":true,"fill":"white","stroke":"black","strokeWidth":1.3,"size":22,"opacity":1},
     "encoding":{"x":{"field":"g","type":"nominal","sort":["2.8","10","20"]},"xOffset":{"field":"sub","type":"nominal","scale":{"domain":["WT-1","WT-2","WT-3","WT-4","WT-5","N-1","N-2","N-3","N-4","N-5"]}},"y":{"field":"v","type":"quantitative"}}},
    {"data":{"values":[{"g":"10","geno":"Nox2⁻/⁻"},{"g":"20","geno":"Nox2⁻/⁻"}]},"mark":{"type":"text","text":"*","fontSize":15,"baseline":"top"},
     "encoding":{"x":{"field":"g","type":"nominal","sort":["2.8","10","20"]},"xOffset":{"field":"geno","type":"nominal","scale":{"domain":["WT","Nox2⁻/⁻"]}},"y":{"datum":47.4}}},
    {"data":{"values":[{"g":"10"}]},"mark":{"type":"text","text":"7 hours","fontSize":17,"baseline":"middle","dx":13},"encoding":{"x":{"field":"g","type":"nominal","sort":["2.8","10","20"]},"y":{"datum":82.6}}},
    {"data":{"values":[{"g":"2.8"}]},"mark":{"type":"text","text":"D","fontSize":19,"baseline":"middle","dx":-80},"encoding":{"x":{"field":"g","type":"nominal","sort":["2.8","10","20"]},"y":{"datum":82.6}}}
   ]}
  ],"spacing":0,"bounds":"flush","resolve":{"scale":{"fill":"independent"},"legend":{"fill":"independent"}}},
  {"data":{"values":[]},"mark":"point","width":293,"height":1},
  {"vconcat":[
   {"data":{"values":[]},"mark":"point","width":1,"height":11},
   {"width":113,"height":185,"layer":[
    {"data":{"name":"Ebar"},"mark":{"type":"bar","stroke":"black","strokeWidth":1.5},
     "encoding":{"x":{"field":"g","type":"nominal","sort":["WT","Nox2⁻/⁻"],"scale":{"type":"band","paddingInner":0.333,"paddingOuter":0.344},"axis":{"title":null,"labelAngle":-45,"labelAlign":"right","labelBaseline":"top","labelFontSize":13,"labelPadding":3,"labelFontStyle":{"condition":{"test":"datum.value === 'WT'","value":"normal"},"value":"italic"}}},
      "y":{"field":"m","type":"quantitative","scale":{"domain":[0,2],"nice":false},"axis":{"values":[0,0.5,1,1.5,2],"tickCount":50,"format":".1f","title":"Insulin concentration (ng/µL)","labelFontSize":13,"titleFontSize":13}},
      "fill":{"field":"g","type":"nominal","scale":{"domain":["WT","Nox2⁻/⁻"],"range":["#FF8000","#1CB81C"]},"legend":null}}},
    {"data":{"name":"Ebar"},"mark":{"type":"rule","strokeWidth":1.5,"color":"black"},"encoding":{"x":{"field":"g","type":"nominal","sort":["WT","Nox2⁻/⁻"]},"y":{"field":"lo","type":"quantitative"},"y2":{"field":"hi"}}},
    {"data":{"name":"Ebar"},"mark":{"type":"tick","size":12,"thickness":1.5,"color":"black","opacity":1},"encoding":{"x":{"field":"g","type":"nominal","sort":["WT","Nox2⁻/⁻"]},"y":{"field":"hi","type":"quantitative"}}},
    {"data":{"name":"Ebar"},"mark":{"type":"tick","size":12,"thickness":1.5,"color":"black","opacity":1},"encoding":{"x":{"field":"g","type":"nominal","sort":["WT","Nox2⁻/⁻"]},"y":{"field":"lo","type":"quantitative"}}},
    {"data":{"name":"Epts"},"mark":{"type":"point","shape":"circle","filled":true,"fill":"white","stroke":"black","strokeWidth":1.3,"size":22,"opacity":1},
     "encoding":{"x":{"field":"g","type":"nominal","sort":["WT","Nox2⁻/⁻"]},"xOffset":{"field":"k","type":"ordinal","scale":{"domain":[1,2,3,4,5,6,7]}},"y":{"field":"v","type":"quantitative"}}},
    {"data":{"values":[{"g":"Nox2⁻/⁻"}]},"mark":{"type":"text","text":"*","fontSize":15,"baseline":"top"},"encoding":{"x":{"field":"g","type":"nominal","sort":["WT","Nox2⁻/⁻"]},"y":{"datum":1.99}}},
    {"data":{"values":[{"g":"WT"}]},"mark":{"type":"text","text":"E","fontSize":19,"baseline":"middle","dx":-73},"encoding":{"x":{"field":"g","type":"nominal","sort":["WT","Nox2⁻/⁻"]},"y":{"datum":2.46}}}
   ]}
  ],"spacing":0,"bounds":"flush"},
  {"data":{"values":[]},"mark":"point","width":223,"height":1},
  {"width":196,"height":188,"resolve":{"scale":{"xOffset":"independent"}},"layer":[
   {"data":{"name":"Fbar"},"mark":{"type":"bar","stroke":"black","strokeWidth":1.5},
    "encoding":{"x":{"field":"g","type":"nominal","sort":["1.1","16.5"],"scale":{"type":"band","paddingInner":0.34,"paddingOuter":0.218,"align":0.63},"axis":{"title":"Glucose (mM)","labelAngle":0,"labelFontSize":13,"titleFontSize":13,"labelPadding":6,"titlePadding":10}},
     "xOffset":{"field":"geno","type":"nominal","sort":["WT","Nox2⁻/⁻"],"scale":{"domain":["WT","Nox2⁻/⁻"]}},
     "y":{"field":"m","type":"quantitative","scale":{"domain":[0,150],"nice":false},"axis":{"values":[0,50,100,150],"tickCount":50,"title":["Insulin secretion (µU/mL)","(normalized to DNA content)"],"labelFontSize":13,"titleFontSize":13}},
     "fill":{"field":"geno","type":"nominal","scale":{"domain":["WT","Nox2⁻/⁻"],"range":["#FF8000","#1CB81C"]},
      "legend":{"title":null,"orient":"none","legendX":15,"legendY":-4,"symbolType":"M-1,-0.6H1V0.6H-1Z","symbolSize":400,"symbolStrokeColor":"black","symbolStrokeWidth":1.5,"labelFontSize":13,"labelFontWeight":"bold","labelOffset":4,"rowPadding":-2,"labelFontStyle":{"expr":"datum.label == 'WT' ? 'normal' : 'italic'"}}}}},
   {"data":{"name":"Fbar"},"mark":{"type":"rule","strokeWidth":1.5,"color":"black"},
    "encoding":{"x":{"field":"g","type":"nominal","sort":["1.1","16.5"]},"xOffset":{"field":"geno","type":"nominal","scale":{"domain":["WT","Nox2⁻/⁻"]}},"y":{"field":"lo","type":"quantitative"},"y2":{"field":"hi"}}},
   {"data":{"name":"Fbar"},"mark":{"type":"tick","size":12,"thickness":1.5,"color":"black","opacity":1},
    "encoding":{"x":{"field":"g","type":"nominal","sort":["1.1","16.5"]},"xOffset":{"field":"geno","type":"nominal","scale":{"domain":["WT","Nox2⁻/⁻"]}},"y":{"field":"hi","type":"quantitative"}}},
   {"data":{"name":"Fbar"},"mark":{"type":"tick","size":12,"thickness":1.5,"color":"black","opacity":1},
    "encoding":{"x":{"field":"g","type":"nominal","sort":["1.1","16.5"]},"xOffset":{"field":"geno","type":"nominal","scale":{"domain":["WT","Nox2⁻/⁻"]}},"y":{"field":"lo","type":"quantitative"}}},
   {"data":{"name":"Fpts"},"mark":{"type":"point","shape":"circle","filled":true,"fill":"white","stroke":"black","strokeWidth":1.3,"size":26,"opacity":1},
    "encoding":{"x":{"field":"g","type":"nominal","sort":["1.1","16.5"]},"xOffset":{"field":"sub","type":"nominal","scale":{"domain":["WT-1","WT-2","WT-3","WT-4","WT-5","WT-6","N-1","N-2","N-3","N-4","N-5","N-6"]}},"y":{"field":"v","type":"quantitative"}}},
   {"data":{"values":[{"g":"16.5","geno":"Nox2⁻/⁻"}]},"mark":{"type":"text","text":"*","fontSize":15,"baseline":"top"},
    "encoding":{"x":{"field":"g","type":"nominal","sort":["1.1","16.5"]},"xOffset":{"field":"geno","type":"nominal","scale":{"domain":["WT","Nox2⁻/⁻"]}},"y":{"datum":157}}},
   {"data":{"values":[{"g":"1.1"}]},"mark":{"type":"text","text":"GSIS","fontSize":13,"baseline":"middle","dx":46},"encoding":{"x":{"field":"g","type":"nominal","sort":["1.1","16.5"]},"y":{"datum":165.9}}},
   {"data":{"values":[{"g":"1.1"}]},"mark":{"type":"text","text":"F","fontSize":19,"baseline":"middle","dx":-126},"encoding":{"x":{"field":"g","type":"nominal","sort":["1.1","16.5"]},"y":{"datum":175.4}}}
  ]}
 ],"spacing":0,"bounds":"flush","resolve":{"scale":{"fill":"independent"},"legend":{"fill":"independent"}}},
 {"data":{"values":[]},"mark":"point","width":1,"height":346},
 {"hconcat":[
  {"width":299,"height":183,"layer":[
   {"data":{"name":"G"},"mark":{"type":"line","color":"#555","strokeWidth":0.8},
    "encoding":{"x":{"field":"t","type":"quantitative","title":"Time (min)","scale":{"domain":[0,25],"nice":false},"axis":{"values":[0,5,10,15,20,25],"tickCount":50,"format":"d","labelFontSize":11,"titleFontSize":11,"titlePadding":5}},
     "y":{"field":"v","type":"quantitative","title":["Ca²⁺ Fura-2","(ratio 340/380 nm)"],"scale":{"domain":[0,3],"nice":false},"axis":{"values":[0,1,2,3],"tickCount":50,"format":"d","labelFontSize":11,"titleFontSize":10,"titlePadding":8}},
     "detail":{"field":"g"}}},
   {"data":{"name":"G"},"mark":{"type":"errorbar","color":"#777","thickness":0.8,"clip":true,"ticks":{"size":3,"thickness":0.8}},
    "encoding":{"x":{"field":"t","type":"quantitative","title":"Time (min)"},"y":{"field":"v","type":"quantitative","title":["Ca²⁺ Fura-2","(ratio 340/380 nm)"]},"yError":{"field":"e"}}},
   {"data":{"name":"G"},"mark":{"type":"circle","size":20,"opacity":1,"stroke":"#333","strokeWidth":0.5},
    "encoding":{"x":{"field":"t","type":"quantitative"},"y":{"field":"v","type":"quantitative"},
     "fill":{"field":"g","type":"nominal","scale":{"domain":["WT","Nox2⁻/⁻"],"range":["#FF8000","#1CB81C"]},
      "legend":{"title":null,"orient":"none","legendX":231,"legendY":136,"symbolType":"M-2,0H-0.7M0.7,0H2M0.7,0A0.7,0.7,0,1,1,-0.7,0A0.7,0.7,0,1,1,0.7,0","symbolSize":52,"symbolStrokeColor":"#555","symbolStrokeWidth":0.8,"labelFontSize":12,"labelFontWeight":"bold","labelOffset":7,"rowPadding":2,"labelFontStyle":{"expr":"datum.label == 'WT' ? 'normal' : 'italic'"}}}}},
   {"data":{"values":[{}]},"mark":{"type":"rule","strokeWidth":1.2,"color":"black"},"encoding":{"x":{"datum":0.33},"x2":{"datum":4.85},"y":{"datum":3.08}}},
   {"data":{"values":[{}]},"mark":{"type":"rule","strokeWidth":1.2,"color":"black"},"encoding":{"x":{"datum":5.27},"x2":{"datum":25.5},"y":{"datum":3.03}}},
   {"data":{"values":[{}]},"mark":{"type":"rule","strokeWidth":1.2,"color":"black"},"encoding":{"x":{"datum":20.6},"x2":{"datum":25.4},"y":{"datum":3.16}}},
   {"data":{"values":[{}]},"mark":{"type":"text","text":"0 mM","fontSize":10,"baseline":"middle"},"encoding":{"x":{"datum":2.5},"y":{"datum":3.21}}},
   {"data":{"values":[{}]},"mark":{"type":"text","text":"20 mM","fontSize":10,"baseline":"middle"},"encoding":{"x":{"datum":14.2},"y":{"datum":3.2}}},
   {"data":{"values":[{}]},"mark":{"type":"text","text":"K⁺ 30 mM","fontSize":10,"baseline":"middle"},"encoding":{"x":{"datum":23.0},"y":{"datum":3.32}}},
   {"data":{"values":[{}]},"mark":{"type":"text","text":"Glucose","fontSize":10,"fontWeight":"normal","align":"left","baseline":"middle"},"encoding":{"x":{"datum":25.9},"y":{"datum":3.03}}},
   {"data":{"values":[{}]},"mark":{"type":"text","text":"G","fontSize":19,"baseline":"middle"},"encoding":{"x":{"datum":-2.0},"y":{"datum":3.26}}}
  ]},
  {"data":{"values":[]},"mark":"point","width":138,"height":1},
  {"width":297,"height":180,"layer":[
   {"data":{"name":"H"},"transform":[{"filter":"datum.g === 'WT'"}],"mark":{"type":"errorband","interpolate":"monotone","band":{"opacity":0},"borders":{"strokeDash":[1,2],"color":"#222","strokeWidth":0.9}},
    "encoding":{"x":{"field":"t","type":"quantitative","title":"Time (hours)","scale":{"domain":[0,20],"nice":false},"axis":{"values":[0,5,10,15,20],"tickCount":50,"format":"d","labelFontSize":11,"titleFontSize":11,"titlePadding":5}},
     "y":{"field":"v","type":"quantitative","title":"NAD(P)H autofluorescence","scale":{"domain":[90000,110000],"nice":false,"zero":false},"axis":{"values":[90000,95000,100000,105000,110000],"tickCount":50,"format":"d","labelFontSize":11,"titleFontSize":11,"titlePadding":6}},
     "yError":{"field":"e"}}},
   {"data":{"name":"H"},"transform":[{"filter":"datum.g !== 'WT'"}],"mark":{"type":"errorband","interpolate":"monotone","band":{"opacity":0},"borders":{"strokeDash":[1,2],"color":"#222","strokeWidth":0.9}},
    "encoding":{"x":{"field":"t","type":"quantitative","title":"Time (hours)"},"y":{"field":"v","type":"quantitative","title":"NAD(P)H autofluorescence"},"yError":{"field":"e"}}},
   {"data":{"name":"H"},"mark":{"type":"line","color":"#666","strokeWidth":1},
    "encoding":{"x":{"field":"t","type":"quantitative"},"y":{"field":"v","type":"quantitative"},"detail":{"field":"g"}}},
   {"data":{"name":"H"},"mark":{"type":"circle","size":34,"opacity":1,"stroke":"#444","strokeWidth":0.6},
    "encoding":{"x":{"field":"t","type":"quantitative"},"y":{"field":"v","type":"quantitative"},
     "fill":{"field":"g","type":"nominal","scale":{"domain":["WT","Nox2⁻/⁻"],"range":["#FF8000","#1CB81C"]},
      "legend":{"title":null,"orient":"none","legendX":228,"legendY":31,"symbolType":"M-2,0H-0.7M0.7,0H2M0.7,0A0.7,0.7,0,1,1,-0.7,0A0.7,0.7,0,1,1,0.7,0","symbolSize":88,"symbolStrokeColor":"#555","symbolStrokeWidth":0.8,"labelFontSize":13,"labelFontWeight":"bold","labelOffset":10,"rowPadding":4,"labelFontStyle":{"expr":"datum.label == 'WT' ? 'normal' : 'italic'"}}}}},
   {"data":{"values":[{}]},"mark":{"type":"rule","strokeWidth":1.2,"color":"black"},"encoding":{"x":{"datum":-0.13},"x2":{"datum":1.55},"y":{"datum":110333}}},
   {"data":{"values":[{}]},"mark":{"type":"rule","strokeWidth":1.2,"color":"black"},"encoding":{"x":{"datum":1.48},"x2":{"datum":19.0},"y":{"datum":109333}}},
   {"data":{"values":[{}]},"mark":{"type":"text","text":"18% O₂","fontSize":11,"fontWeight":"normal","baseline":"middle"},"encoding":{"x":{"datum":0.88},"y":{"datum":111222}}},
   {"data":{"values":[{}]},"mark":{"type":"text","text":"5% O₂","fontSize":11,"fontWeight":"normal","baseline":"middle"},"encoding":{"x":{"datum":10.4},"y":{"datum":110222}}},
   {"data":{"values":[{}]},"mark":{"type":"text","text":"H","fontSize":19,"baseline":"middle"},"encoding":{"x":{"datum":-3.84},"y":{"datum":111778}}}
  ]}
 ],"spacing":0,"bounds":"flush","resolve":{"scale":{"fill":"independent"},"legend":{"fill":"independent"}}}
]
}
